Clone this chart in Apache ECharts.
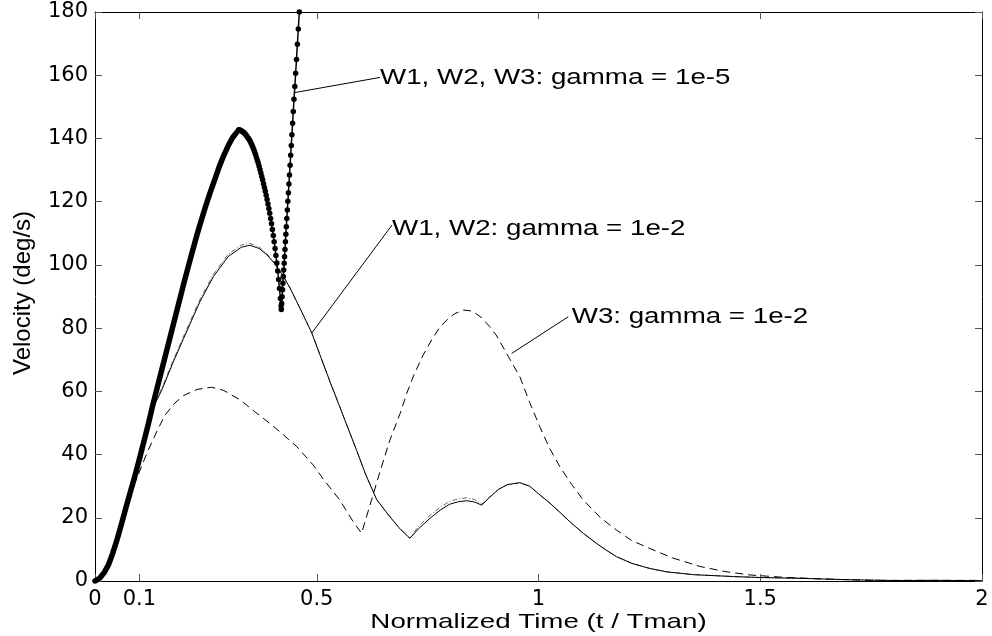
<!DOCTYPE html>
<html>
<head>
<meta charset="utf-8">
<script src="https://cdn.jsdelivr.net/npm/echarts@6/dist/echarts.min.js"></script>
<style>
  html, body { margin: 0; padding: 0; background: #fff; }
  #main { width: 992px; height: 636px; }
</style>
</head>
<body>
<div id="main"></div>
<script>
// tick labels of the time axis
var xTicks = [0, 0.1, 0.5, 1, 1.5, 2];

// W1, W2, W3: gamma = 1e-5, rising part (markers merge into a thick line)
var thickTime = [0, 0.01, 0.02, 0.03, 0.04, 0.05, 0.06, 0.07, 0.08, 0.09, 0.1, 0.11, 0.12, 0.13, 0.14, 0.15, 0.16, 0.17,
    0.18, 0.19, 0.2, 0.21, 0.22, 0.23, 0.24, 0.25, 0.26, 0.27, 0.28, 0.29, 0.3, 0.31, 0.32, 0.324];
var thickVel = [0, 0.8, 2.5, 5.0, 8.8, 13.2, 18.2, 23.3, 28.3, 33.2, 38.5, 44.0, 49.5, 55.5, 61.0, 66.5, 72.0, 77.5,
    83.0, 88.5, 94.0, 99.3, 104.5, 109.5, 114.3, 118.8, 123.0, 127.0, 131.0, 134.5, 137.6, 140.2, 142.0, 142.7];

// same curve after the peak, where the single markers are visible
var dotTime = [0.324, 0.326, 0.328, 0.330, 0.332, 0.334, 0.336, 0.338, 0.340, 0.342, 0.344, 0.346, 0.348, 0.350,
    0.352, 0.354, 0.356, 0.358, 0.360, 0.362, 0.364, 0.366, 0.368, 0.370, 0.372, 0.374, 0.376, 0.378, 0.380, 0.382,
    0.384, 0.386, 0.388, 0.390, 0.392, 0.394, 0.396, 0.398, 0.400, 0.402, 0.404, 0.406, 0.408, 0.410, 0.412, 0.414,
    0.416, 0.418, 0.4195,
    0.4201, 0.4210, 0.4219, 0.4228, 0.4237, 0.4246, 0.4255, 0.4265, 0.4274, 0.4284, 0.4294, 0.4304, 0.4314, 0.4325,
    0.4337, 0.4349, 0.4361, 0.4373, 0.4385, 0.4399, 0.4412, 0.4426, 0.4440, 0.4455, 0.4471, 0.4487, 0.4505, 0.4524,
    0.4543, 0.4563, 0.4584, 0.4607];
var dotVel = [142.7, 142.7, 142.6, 142.4, 142.2, 142.0, 141.8, 141.5, 141.2, 140.8, 140.4, 140.0, 139.6, 139.1,
    138.5, 137.9, 137.2, 136.5, 135.7, 134.9, 134.0, 133.1, 132.2, 131.2, 130.2, 129.1, 128.0, 126.9, 125.7, 124.5,
    123.3, 122.0, 120.7, 119.3, 117.8, 116.3, 114.7, 113.0, 111.2, 109.3, 107.3, 105.2, 103.0, 100.6, 98.1, 95.4,
    92.5, 89.4, 87.0,
    85.9, 87.8, 89.9, 92.1, 94.2, 96.3, 98.4, 100.5, 102.6, 104.9, 107.3, 109.7, 112.1, 114.7,
    117.4, 120.1, 122.8, 125.6, 128.4, 131.5, 134.7, 137.8, 141.2, 144.8, 148.5, 152.4, 156.4, 160.6,
    165.0, 169.8, 174.6, 180.0];

// W1 and W2: gamma = 1e-2 (same sample times)
var w1Time = [0, 0.02, 0.04, 0.06, 0.08, 0.1, 0.12, 0.135, 0.15, 0.175, 0.2, 0.237, 0.267, 0.3, 0.33, 0.349, 0.37,
    0.387, 0.405, 0.425, 0.44, 0.453, 0.47, 0.489, 0.51, 0.53, 0.55, 0.57, 0.59, 0.61, 0.635, 0.66, 0.685, 0.71,
    0.73, 0.755, 0.78, 0.8, 0.82, 0.838, 0.855, 0.872, 0.89, 0.91, 0.93, 0.958, 0.98, 1.0, 1.026, 1.05, 1.075,
    1.101, 1.13, 1.15, 1.176, 1.21, 1.25, 1.289, 1.35, 1.44, 1.5, 1.59, 1.7, 1.8, 1.9, 2.0];
var w1Vel = [0, 2.5, 8.8, 18.2, 28.3, 38.5, 49.5, 56.0, 60.2, 68.8, 76.8, 88.5, 96.3, 102.6, 105.6, 106.2, 105.2,
    103.3, 100.4, 96.3, 92.6, 88.9, 84.0, 78.4, 70.5, 63.0, 55.8, 48.5, 41.3, 33.8, 25.8, 21.2, 16.9, 13.5,
    16.6, 19.8, 22.6, 24.3, 25.1, 25.4, 25.0, 24.0, 26.5, 29.0, 30.5, 31.1, 30.0, 27.6, 24.6, 21.5, 18.2,
    15.1, 12.0, 10.0, 7.7, 5.6, 4.0, 2.9, 2.0, 1.4, 1.1, 0.85, 0.4, 0.15, 0.2, 0.1];
var w2Vel = [0, 2.5, 8.8, 18.2, 28.3, 38.5, 49.5, 56.3, 60.8, 69.4, 77.5, 89.2, 97.0, 103.3, 106.3, 106.8, 105.7,
    103.6, 100.6, 96.4, 92.7, 88.9, 84.0, 78.4, 70.5, 63.0, 55.8, 48.5, 41.3, 33.8, 25.8, 21.2, 16.9, 13.5,
    17.4, 20.7, 23.5, 25.2, 26.0, 26.3, 25.8, 24.3, 26.6, 29.0, 30.5, 31.1, 30.0, 27.6, 24.6, 21.5, 18.2,
    15.1, 12.0, 10.0, 7.7, 5.6, 4.0, 2.9, 2.0, 1.4, 1.1, 0.85, 0.4, 0.15, 0.2, 0.1];

// W3: gamma = 1e-2
var w3Time = [0, 0.02, 0.04, 0.06, 0.086, 0.1, 0.117, 0.14, 0.158, 0.18, 0.2, 0.23, 0.263, 0.29, 0.327, 0.36, 0.39,
    0.417, 0.455, 0.492, 0.515, 0.552, 0.582, 0.601, 0.628, 0.643, 0.665, 0.688, 0.703, 0.72, 0.74, 0.76, 0.778,
    0.793, 0.81, 0.831, 0.85, 0.87, 0.89, 0.906, 0.93, 0.958, 0.98, 1.003, 1.025, 1.048, 1.075, 1.101, 1.14, 1.176,
    1.21, 1.251, 1.3, 1.364, 1.42, 1.477, 1.55, 1.65, 1.75, 1.85, 2.0];
var w3Vel = [0, 2.5, 8.8, 18.0, 29.8, 34.5, 40.4, 47.5, 52.5, 56.3, 58.7, 60.6, 61.3, 60.3, 57.3, 53.6, 50.3,
    47.2, 42.5, 36.7, 32.2, 25.6, 18.8, 15.1, 27.7, 34.8, 44.6, 53.0, 59.4, 65.5, 71.5, 76.5, 80.4,
    82.5, 84.5, 85.7, 85.4, 83.5, 80.5, 77.5, 71.5, 64.6, 56.5, 48.8, 42.0, 36.2, 30.5, 25.6, 20.0, 16.1,
    12.8, 10.3, 7.4, 4.6, 3.0, 1.9, 1.2, 0.6, 0.2, 0.2, 0.2];

// annotations: text, where the pointer touches the curve, where the text starts
var noteLabels = ['W1, W2, W3: gamma = 1e-5', 'W1, W2: gamma = 1e-2', 'W3: gamma = 1e-2'];
var noteFromT = [0.450, 0.4886, 0.9396];
var noteFromV = [154.5, 78.4, 72.0];
var noteToT = [0.6426, 0.6697, 1.0672];
var noteToV = [159.3, 112.6, 83.6];
var noteTextT = [0.6426, 0.6697, 1.0749];
var noteTextV = [159.1, 111.5, 83.4];

window.onload = function() {
    function pairs(xs, ys) {
        var out = [];
        for (var i = 0, iL = xs.length; i < iL; i++) {
            out.push([xs[i], ys[i]]);
        }
        return out;
    }

    var labelFont = {color: '#000', fontFamily: 'DejaVu Sans', fontSize: 21};
    var axisLine = {show: true, onZero: false, lineStyle: {color: '#000', width: 1}};
    var tickStyle = {color: '#555', width: 1};

    var myChart = echarts.init(document.getElementById('main'));

    var option = {
        animation: false,
        backgroundColor: '#fff',
        grid: {left: 95, right: 10, top: 12, bottom: 55, containLabel: false, outerBoundsMode: 'none'},
        xAxis: [{
            type: 'value', min: 0, max: 2, position: 'bottom',
            axisLine: axisLine,
            axisTick: {show: true, inside: true, length: 7, customValues: xTicks, lineStyle: tickStyle},
            axisLabel: Object.assign({customValues: xTicks, margin: 8}, labelFont),
            splitLine: {show: false}
        }, {
            type: 'value', min: 0, max: 2, position: 'top',
            axisLine: axisLine,
            axisTick: {show: true, inside: true, length: 7, customValues: xTicks, lineStyle: tickStyle},
            axisLabel: {show: false},
            splitLine: {show: false}
        }],
        yAxis: [{
            type: 'value', min: 0, max: 180, interval: 20, position: 'left',
            axisLine: axisLine,
            axisTick: {show: true, inside: true, length: 7, lineStyle: tickStyle},
            axisLabel: Object.assign({margin: 7}, labelFont),
            splitLine: {show: false}
        }, {
            type: 'value', min: 0, max: 180, interval: 20, position: 'right',
            axisLine: axisLine,
            axisTick: {show: true, inside: true, length: 7, lineStyle: tickStyle},
            axisLabel: {show: false},
            splitLine: {show: false}
        }],
        series: [{
            name: 'W3 gamma 1e-2',
            type: 'line',
            data: pairs(w3Time, w3Vel),
            showSymbol: false,
            lineStyle: {color: '#000', width: 1, type: [8, 5]}
        }, {
            name: 'W2 gamma 1e-2',
            type: 'line',
            data: pairs(w1Time, w2Vel),
            showSymbol: false,
            lineStyle: {color: '#444', width: 0.8, type: [5, 2, 1, 2]}
        }, {
            name: 'W1 gamma 1e-2',
            type: 'line',
            data: pairs(w1Time, w1Vel),
            showSymbol: false,
            lineStyle: {color: '#000', width: 1}
        }, {
            name: 'gamma 1e-5',
            type: 'line',
            data: pairs(thickTime, thickVel),
            showSymbol: false,
            lineStyle: {color: '#000', width: 5.5, cap: 'round', join: 'round'}
        }, {
            name: 'gamma 1e-5',
            type: 'line',
            data: pairs(dotTime, dotVel),
            symbol: 'circle',
            symbolSize: 5.5,
            showAllSymbol: true,
            itemStyle: {color: '#000'},
            lineStyle: {color: '#000', width: 1.5}
        }]
    };

    myChart.setOption(option);

    // pointers and texts, placed through the axes
    var graphics = [];
    for (var i = 0, iL = noteLabels.length; i < iL; i++) {
        var p0 = myChart.convertToPixel({gridIndex: 0}, [noteFromT[i], noteFromV[i]]);
        var p1 = myChart.convertToPixel({gridIndex: 0}, [noteToT[i], noteToV[i]]);
        var pt = myChart.convertToPixel({gridIndex: 0}, [noteTextT[i], noteTextV[i]]);
        graphics.push({
            type: 'line',
            shape: {x1: p0[0], y1: p0[1], x2: p1[0], y2: p1[1]},
            style: {stroke: '#000', lineWidth: 1}
        });
        graphics.push({
            type: 'text',
            x: pt[0], y: pt[1], scaleX: 1.26,
            style: {text: noteLabels[i], fill: '#000', fontFamily: 'Liberation Sans', fontSize: 22,
                align: 'left', verticalAlign: 'middle'}
        });
    }
    graphics.push({
        type: 'text',
        x: 538.5, y: 622, scaleX: 1.32,
        style: {text: 'Normalized Time (t / Tman)', fill: '#000', fontFamily: 'Liberation Sans', fontSize: 21,
            align: 'center', verticalAlign: 'middle'}
    });
    graphics.push({
        type: 'text',
        x: 23, y: 293, rotation: Math.PI / 2,
        style: {text: 'Velocity (deg/s)', fill: '#000', fontFamily: 'Liberation Sans', fontSize: 24,
            align: 'center', verticalAlign: 'middle'}
    });

    myChart.setOption({graphic: graphics});
};
</script>
</body>
</html>
